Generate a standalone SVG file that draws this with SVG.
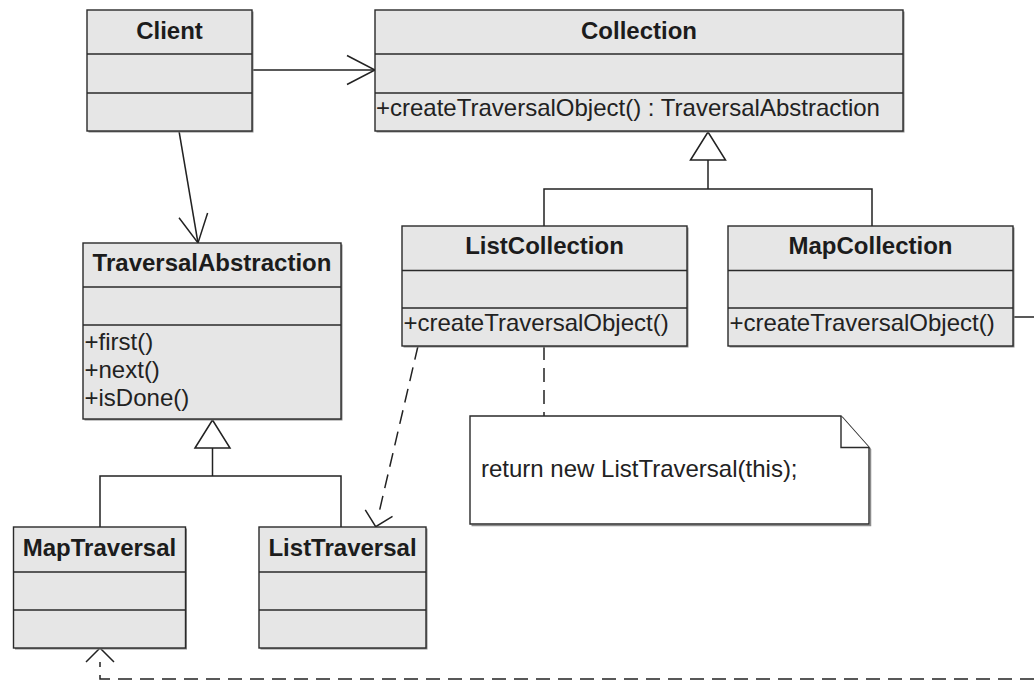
<svg xmlns="http://www.w3.org/2000/svg" width="1034" height="680" viewBox="0 0 1034 680">
<style>
.box{fill:#e6e6e6;stroke:#2a2a2a;stroke-width:1.4}
.shadow{fill:#8c8c8c}
.div{stroke:#2a2a2a;stroke-width:1.4}
.title{font-family:"Liberation Sans",Arial,sans-serif;font-size:24px;font-weight:bold;fill:#1c1c1c;text-anchor:middle}
.op{font-family:"Liberation Sans",Arial,sans-serif;font-size:24px;fill:#222}
.line{fill:none;stroke:#222;stroke-width:1.5}
.dash{fill:none;stroke:#222;stroke-width:1.5;stroke-dasharray:14 8}
.note{fill:#fff;stroke:#2a2a2a;stroke-width:1.4}
</style>
<defs>
<marker id="open" markerUnits="userSpaceOnUse" markerWidth="40" markerHeight="40" refX="28" refY="14.5" orient="auto" overflow="visible">
<path d="M0,0 L28,14.5 L0,29" fill="none" stroke="#222" stroke-width="1.5"/>
</marker>
<marker id="dep" markerUnits="userSpaceOnUse" markerWidth="40" markerHeight="40" refX="0" refY="14" orient="auto" overflow="visible">
<path d="M0,0 L14,14 L0,28" fill="none" stroke="#222" stroke-width="1.5"/>
</marker>
<marker id="tri" markerUnits="userSpaceOnUse" markerWidth="40" markerHeight="40" refX="28" refY="17.5" orient="auto" overflow="visible">
<path d="M0,0 L28,17.5 L0,35 Z" fill="#fff" stroke="#222" stroke-width="1.5"/>
</marker>
</defs>

<g id="connectors">
<path class="line" d="M252,70 H375" marker-end="url(#open)"/>
<path class="line" d="M179,131 L198,243" marker-end="url(#open)"/>
<path class="line" d="M544,226 V189 H872 V226"/>
<path class="line" d="M708,189 V132" marker-end="url(#tri)"/>
<path class="line" d="M100,527 V476 H341 V527"/>
<path class="line" d="M212.5,476 V420" marker-end="url(#tri)"/>
<path class="dash" d="M418,346 L378.9,513.1" marker-end="url(#dep)"/>
<path class="dash" d="M544,346 V416"/>
<path class="dash" d="M1014,317 H1034" style="stroke-dasharray:20 8"/>
<path class="dash" d="M1034,679 H100 V662" marker-end="url(#dep)"/>
</g>

<g id="client">
<rect class="shadow" x="88.5" y="11.5" width="165" height="121"/>
<rect class="box" x="87" y="10" width="165" height="121"/>
<line class="div" x1="87" y1="54" x2="252" y2="54"/>
<line class="div" x1="87" y1="93" x2="252" y2="93"/>
<text class="title" x="169.5" y="39">Client</text>
</g>

<g id="collection">
<rect class="shadow" x="376.5" y="11.5" width="528" height="121"/>
<rect class="box" x="375" y="10" width="528" height="121"/>
<line class="div" x1="375" y1="54" x2="903" y2="54"/>
<line class="div" x1="375" y1="93" x2="903" y2="93"/>
<text class="title" x="639" y="39">Collection</text>
<text class="op" x="376" y="116">+createTraversalObject() : TraversalAbstraction</text>
</g>

<g id="listcollection">
<rect class="shadow" x="403.5" y="227.5" width="285" height="120"/>
<rect class="box" x="402" y="226" width="285" height="120"/>
<line class="div" x1="402" y1="270.5" x2="687" y2="270.5"/>
<line class="div" x1="402" y1="308" x2="687" y2="308"/>
<text class="title" x="544.5" y="254">ListCollection</text>
<text class="op" x="403.5" y="331">+createTraversalObject()</text>
</g>

<g id="mapcollection">
<rect class="shadow" x="729.5" y="227.5" width="285" height="120"/>
<rect class="box" x="728" y="226" width="285" height="120"/>
<line class="div" x1="728" y1="270.5" x2="1013" y2="270.5"/>
<line class="div" x1="728" y1="308" x2="1013" y2="308"/>
<text class="title" x="870.5" y="254">MapCollection</text>
<text class="op" x="729.5" y="331">+createTraversalObject()</text>
</g>

<g id="traversalabstraction">
<rect class="shadow" x="84.5" y="244.5" width="258" height="176"/>
<rect class="box" x="83" y="243" width="258" height="176"/>
<line class="div" x1="83" y1="287" x2="341" y2="287"/>
<line class="div" x1="83" y1="325" x2="341" y2="325"/>
<text class="title" x="212" y="271">TraversalAbstraction</text>
<text class="op" x="84.5" y="350">+first()</text>
<text class="op" x="84.5" y="378">+next()</text>
<text class="op" x="84.5" y="406">+isDone()</text>
</g>

<g id="maptraversal">
<rect class="shadow" x="15" y="528.5" width="172" height="121"/>
<rect class="box" x="13.5" y="527" width="172" height="121"/>
<line class="div" x1="13.5" y1="572" x2="185.5" y2="572"/>
<line class="div" x1="13.5" y1="610" x2="185.5" y2="610"/>
<text class="title" x="99.5" y="556">MapTraversal</text>
</g>

<g id="listtraversal">
<rect class="shadow" x="260.5" y="528.5" width="167" height="121"/>
<rect class="box" x="259" y="527" width="167" height="121"/>
<line class="div" x1="259" y1="572" x2="426" y2="572"/>
<line class="div" x1="259" y1="610" x2="426" y2="610"/>
<text class="title" x="342.5" y="556">ListTraversal</text>
</g>

<g id="note">
<path d="M471.5,525.5 H870.5 V449 M842.5,417.5 L870.5,449" fill="none" stroke="#8c8c8c" stroke-width="1.5"/>
<path class="note" d="M470,416 H841 L869,447.5 V524 H470 Z"/>
<path class="note" d="M841,416 V447.5 H869" fill="none"/>
<text class="op" x="481" y="477">return new ListTraversal(this);</text>
</g>
</svg>
